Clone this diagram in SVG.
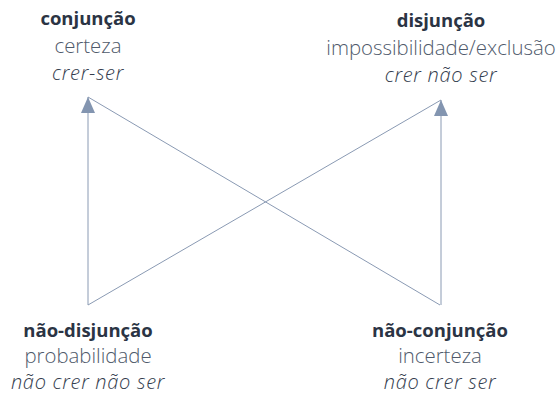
<svg xmlns="http://www.w3.org/2000/svg" width="560" height="396" viewBox="0 0 560 396">
<style>
text{font-family:"Open Sans","Noto Sans",sans-serif;text-anchor:middle}
.t{font-size:18.5px;font-weight:bold;fill:#2b3444}
.s{font-size:20.4px;font-weight:300;fill:#4f5a6b}
.i{font-size:20px;font-weight:300;font-style:italic;fill:#343d4e;letter-spacing:0.7px}
.c{stroke:#8a9ab3;stroke-width:1;fill:none}
</style>
<defs>
<marker id="ah" viewBox="0 0 16 14" refX="16" refY="7" markerWidth="16" markerHeight="14" markerUnits="userSpaceOnUse" orient="auto">
<path d="M0,0 L16,7 L0,14 Z" fill="#8395b0"/>
</marker>
</defs>
<rect width="560" height="396" fill="#fff"/>
<g id="connectors">
<line class="c" x1="88" y1="305" x2="88" y2="97" marker-end="url(#ah)"/>
<line class="c" x1="88" y1="97" x2="440" y2="305"/>
<line class="c" x1="441" y1="305" x2="441" y2="100" marker-end="url(#ah)"/>
<line class="c" x1="88" y1="305" x2="441" y2="100"/>
</g>
<g id="conjuncao">
<text class="t" x="88" y="25">conjunção</text>
<text class="s" x="88" y="53">certeza</text>
<text class="i" x="88" y="80">crer-ser</text>
</g>
<g id="disjuncao">
<text class="t" x="441" y="27">disjunção</text>
<text class="s" x="441" y="55">impossibilidade/exclusão</text>
<text class="i" x="441" y="82">crer não ser</text>
</g>
<g id="nao-disjuncao">
<text class="t" x="88" y="337">não-disjunção</text>
<text class="s" x="88" y="363">probabilidade</text>
<text class="i" x="88" y="389">não crer não ser</text>
</g>
<g id="nao-conjuncao">
<text class="t" x="440" y="337">não-conjunção</text>
<text class="s" x="440" y="363">incerteza</text>
<text class="i" x="440" y="389">não crer ser</text>
</g>
</svg>
